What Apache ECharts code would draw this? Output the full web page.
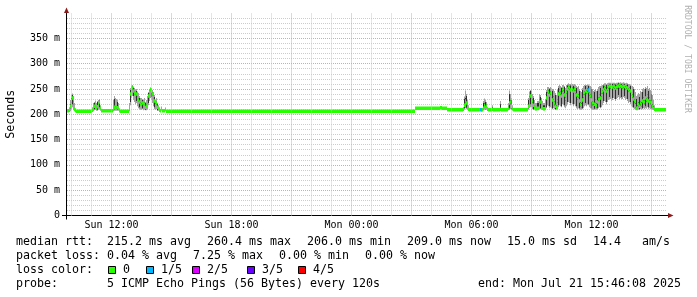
<!DOCTYPE html>
<html><head><meta charset="utf-8">
<script src="https://cdn.jsdelivr.net/npm/echarts@6/dist/echarts.min.js"></script>
<style>html,body{margin:0;padding:0;background:#fff}#c{width:697px;height:297px}</style>
</head><body><div id="c"></div>
<script>
// ---- DATA (sample start, hours since Sun 00:00; values in ms) ----
const times = [9.77,9.87,9.92,9.97,10.02,10.07,10.12,10.17,10.22,11.02,
11.07,11.12,11.17,11.22,11.27,11.32,11.37,11.42,11.47,12.07,
12.12,12.17,12.22,12.27,12.32,12.37,12.42,12.87,12.92,12.97,
13.02,13.07,13.12,13.17,13.22,13.27,13.32,13.37,13.42,13.47,
13.52,13.57,13.62,13.67,13.72,13.77,13.82,13.87,13.92,13.97,
14.02,14.07,14.12,14.17,14.22,14.27,14.32,14.37,14.42,14.47,
14.52,14.67,14.72,27.17,28.42,28.52,28.77,29.57,29.62,29.67,
29.72,29.77,29.82,29.87,30.42,30.47,30.57,30.62,30.67,30.72,
30.77,30.82,31.02,31.07,31.42,31.47,31.82,31.87,31.92,31.97,
32.02,32.07,32.82,32.87,32.92,32.97,33.02,33.07,33.12,33.17,
33.27,33.37,33.42,33.47,33.52,33.57,33.67,33.72,33.77,33.82,
33.87,33.92,33.97,34.02,34.07,34.12,34.17,34.22,34.27,34.32,
34.37,34.42,34.47,34.52,34.57,34.62,34.67,34.72,34.77,34.82,
34.87,34.92,34.97,35.02,35.07,35.12,35.17,35.22,35.27,35.32,
35.37,35.42,35.47,35.52,35.57,35.62,35.67,35.72,35.77,35.82,
35.87,35.92,35.97,36.02,36.07,36.12,36.17,36.22,36.27,36.32,
36.37,36.42,36.47,36.52,36.57,36.62,36.67,36.72,36.77,36.82,
36.87,36.92,36.97,37.02,37.07,37.12,37.17,37.22,37.27,37.32,
37.37,37.42,37.47,37.52,37.57,37.62,37.67,37.72,37.77,37.82,
37.87,37.92,37.97,38.02,38.07,38.12,38.17,38.22,38.27,38.32,
38.37,38.42,38.47,38.52,38.57,38.62,38.67,38.72,38.77,38.82,
38.87,38.92,38.97,39.02,39.07,39.12,39.17];
const median = [207,208,216,226,232,222,210,207,206,208,
212,216,218,212,215,220,224,212,207,210,
214,212,215,213,212,207,206,210,240,250,
252,246,242,236,240,232,228,224,220,218,
222,216,220,214,216,224,236,244,249,246,
240,234,226,218,222,214,212,208,207,212,
207,210,206,212,213,212,209,210,218,226,
222,214,210,209,209,209,212,218,214,216,
210,209,210,209,210,209,212,222,224,216,
211,209,216,232,236,234,226,218,214,211,
212,226,224,216,212,211,213,232,246,244,
238,242,236,228,232,222,216,214,226,240,
246,242,236,248,244,238,230,244,250,254,
252,248,252,250,246,250,244,238,232,236,
226,220,218,228,236,242,246,244,248,246,
240,236,228,222,216,220,226,218,224,230,
236,232,238,244,248,252,250,246,250,254,
256,255,252,254,256,255,252,254,255,256,
254,256,255,254,256,255,252,254,252,248,
250,246,240,236,230,226,218,212,214,220,
216,222,220,226,230,224,232,228,236,226,
230,224,222,216,212,210,209];
const smokeMin = [205,205,206,210,214,208,206,205,205,206,
206,208,209,207,207,209,210,207,206,206,
207,207,207,207,207,206,205,206,218,232,
236,228,224,220,222,216,212,210,209,209,
210,208,209,208,208,210,218,226,232,228,
222,216,210,209,210,207,207,206,206,207,
206,206,205,211,212,211,208,208,209,212,
210,209,208,208,208,208,208,209,209,209,
208,208,208,208,208,208,208,209,210,209,
208,208,209,212,214,214,210,209,209,208,
208,210,210,209,209,208,209,212,218,216,
212,214,212,210,212,210,209,209,210,214,
218,216,214,220,218,214,212,216,220,224,
222,218,222,220,216,220,216,212,210,212,
210,209,209,210,212,216,218,216,220,218,
214,212,210,209,209,209,210,209,210,212,
214,212,214,218,222,226,224,220,224,228,
230,230,226,228,232,230,226,230,232,234,
230,232,230,230,234,232,228,230,226,222,
224,220,216,214,212,210,209,208,208,209,
209,210,209,210,212,210,212,211,214,210,
212,210,210,209,209,208,208];
const smokeMax = [209,214,228,238,241,236,222,212,208,214,
222,224,227,222,226,228,230,218,209,228,
236,232,230,228,222,212,208,222,252,257,
258,255,252,248,250,245,242,236,232,232,
230,228,232,224,228,236,244,250,253,252,
248,244,238,228,232,222,218,214,209,214,
209,212,207,213,216,213,210,214,235,247,
240,228,218,210,210,210,226,231,228,224,
214,210,218,210,226,210,222,247,240,232,
218,210,232,245,248,247,240,236,228,222,
226,240,238,232,226,222,230,248,254,254,
252,254,252,250,250,246,242,238,248,256,
258,256,254,258,258,256,252,258,260,261,
260,260,261,260,259,260,258,256,254,256,
250,246,244,252,256,258,259,258,259,259,
257,256,254,250,246,248,250,246,250,254,
256,256,257,258,260,261,261,260,261,262,
262,262,261,262,262,262,261,262,262,263,
262,263,262,262,263,262,261,262,261,260,
260,259,257,256,254,250,244,236,238,242,
240,246,244,250,252,250,254,252,256,250,
252,248,246,238,228,218,210];
const smokeInnerLow = [206,207,212,222,220,219,208,206,205,207,
210,210,216,210,209,218,214,210,206,208,
210,210,212,209,210,206,205,208,224,247,
249,236,239,233,226,229,225,214,217,215,
212,213,217,209,213,221,222,241,246,234,
237,231,214,215,219,208,210,207,206,209,
206,208,205,211,212,211,208,209,212,222,
213,212,209,208,208,208,209,215,210,213,
209,208,209,208,209,208,210,212,220,210,
209,208,212,228,220,230,222,210,211,209,
209,222,212,213,210,209,211,214,242,240,
216,238,232,212,228,218,210,211,222,218,
242,238,216,244,240,218,226,240,224,250,
248,222,248,246,220,246,240,216,228,232,
212,216,214,212,232,238,222,240,244,220,
236,232,212,218,213,211,222,214,212,226,
232,214,234,240,226,248,246,224,246,250,
234,251,248,232,252,251,230,250,251,238,
250,252,234,250,252,236,248,250,230,244,
246,224,236,232,214,222,214,209,211,216,
210,218,216,212,226,220,216,224,232,214,
226,220,212,213,210,209,208];
const smokeInnerHigh = [208,210,220,232,238,225,212,208,207,209,
214,222,220,214,224,222,228,214,208,212,
230,215,218,224,214,208,207,212,248,253,
255,252,245,239,246,235,231,232,223,221,
228,219,223,222,219,227,242,247,251,250,
243,237,234,221,225,220,214,210,208,213,
208,211,207,213,214,213,210,212,230,232,
236,217,212,210,210,210,222,222,224,219,
212,210,214,210,220,210,215,240,228,228,
213,210,228,236,246,238,230,232,217,214,
222,230,234,219,214,218,216,244,250,248,
250,246,240,246,236,226,238,218,230,252,
250,246,252,252,248,254,234,248,257,257,
256,257,256,254,256,254,248,252,236,240,
246,224,222,248,240,246,256,248,252,256,
244,240,250,226,220,244,230,222,246,234,
240,252,242,248,257,256,254,258,254,258,
260,259,256,260,259,259,259,258,259,261,
258,260,260,258,260,260,256,258,259,252,
254,256,244,240,250,230,222,230,218,224,
234,226,224,244,234,228,250,232,240,246,
234,228,240,220,216,212,210];
const lossTimes = [30.42, 35.77];
const lossLevels = [1, 1];
const startHour = 9.775, endHour = 39.775, lastSampleEnd = 39.72;
const xTickHours = [12, 18, 24, 30, 36];
const xTickLabels = ['Sun 12:00', 'Sun 18:00', 'Mon 00:00', 'Mon 06:00', 'Mon 12:00'];
const hourGrid = [10,11,13,14,16,17,19,20,22,23,25,26,28,29,31,32,34,35,37,38];
const majorHourGrid = [12,15,18,21,24,27,30,33,36,39];
const lossLabels = ['0', '1/5', '2/5', '3/5', '4/5'];
const lossColors = ['#26ff00', '#00b8ff', '#dd00ff', '#6a00ff', '#ff0000'];
const legendRow1 = ['median rtt:  215.2 ms avg', '260.4 ms max', '206.0 ms min', '209.0 ms now', '15.0 ms sd', '14.4   am/s'];
const legendRow2 = ['packet loss: 0.04 % avg', '7.25 % max', '0.00 % min', '0.00 % now'];
const probeText = 'probe:       5 ICMP Echo Pings (56 Bytes) every 120s';
const endText = 'end: Mon Jul 21 15:46:08 2025';

// ---- LAYOUT ----
const G = {left: 67, top: 13, width: 600, height: 202.5};
const bottomY = G.top + G.height;
const MONO = '"DejaVu Sans Mono", monospace';
const legFont = '11.63px ' + MONO;
const charW = 7, gap = 16, legX = 16;
const rowY = [242, 256, 270, 284];
const medianBarPx = 3.5;

const graphics = [];
function txt(x, y, s) {
  graphics.push({type: 'text', x: x, y: y, silent: true,
    style: {text: s, font: legFont, fill: '#000', align: 'left', verticalAlign: 'middle'}});
}
function placeRow(items, y) {
  let x = legX;
  items.forEach(s => { txt(x, y, s); x += s.length * charW + gap; });
}
placeRow(legendRow1, rowY[0]);
placeRow(legendRow2, rowY[1]);
txt(legX, rowY[2], 'loss color:');
const boxX = [108, 146, 192, 247, 298];
lossLabels.forEach((l, i) => {
  graphics.push({type: 'rect', silent: true, shape: {x: boxX[i] + 0.5, y: Math.round(rowY[2] - 4) + 0.5, width: 7, height: 7},
    style: {fill: lossColors[i], stroke: '#000', lineWidth: 1}});
  txt(boxX[i] + 15, rowY[2], l);
});
txt(legX, rowY[3], probeText);
txt(478, rowY[3], endText);
// axis lines + arrows
graphics.push({type: 'line', silent: true, shape: {x1: G.left - 5, y1: bottomY, x2: G.left + G.width + 5, y2: bottomY}, style: {stroke: '#000', lineWidth: 1}});
graphics.push({type: 'line', silent: true, shape: {x1: G.left - 0.5, y1: bottomY + 4, x2: G.left - 0.5, y2: G.top - 4}, style: {stroke: '#000', lineWidth: 1}});
graphics.push({type: 'polygon', silent: true, shape: {points: [[G.left - 3, G.top], [G.left + 2, G.top], [G.left - 0.5, G.top - 5.5]]}, style: {fill: '#8b1a1a'}});
graphics.push({type: 'polygon', silent: true, shape: {points: [[G.left + G.width + 1, bottomY - 2.5], [G.left + G.width + 1, bottomY + 2.5], [G.left + G.width + 6.5, bottomY]]}, style: {fill: '#8b1a1a'}});
// vertical titles
graphics.push({type: 'text', x: 11, y: G.top + G.height / 2, rotation: Math.PI / 2, silent: true,
  style: {text: 'Seconds', font: legFont, fill: '#000', align: 'center', verticalAlign: 'middle'}});
graphics.push({type: 'text', x: 687.5, y: 59, rotation: -Math.PI / 2, silent: true,
  style: {text: 'RRDTOOL / TOBI OETIKER', font: '8.15px ' + MONO, fill: '#b0b0b0', align: 'center', verticalAlign: 'middle'}});

// ---- SERIES DATA ----
const nextT = i => (i + 1 < times.length ? times[i + 1] : lastSampleEnd);
const lossAt = t => { const k = lossTimes.findIndex(v => Math.abs(v - t) < 1e-6); return k >= 0 ? lossLevels[k] : 0; };
const smokeRows = times.map((t, i) => [t, smokeMin[i], smokeMax[i], smokeInnerLow[i], smokeInnerHigh[i], nextT(i)]);
const medianRows = times.map((t, i) => [t, median[i], nextT(i), lossAt(t)]);

function colSpan(a, b) {
  const x0 = Math.round(a), x1 = Math.round(b);
  return {x: x0, width: Math.max(1, x1 - x0)};
}
function renderSmoke(params, api) {
  const t0 = api.value(0), t1 = api.value(5);
  const a = api.coord([t0, api.value(2)]), b = api.coord([t1, api.value(1)]);
  const c = api.coord([t0, api.value(4)]), d = api.coord([t1, api.value(3)]);
  const s = colSpan(a[0], b[0]);
  return {type: 'group', children: [
    {type: 'rect', shape: {x: s.x, y: a[1], width: s.width, height: b[1] - a[1]}, style: {fill: '#a3a3a3'}},
    {type: 'rect', shape: {x: s.x, y: c[1], width: s.width, height: d[1] - c[1]}, style: {fill: '#2e2e2e'}}
  ]};
}
function renderMedian(params, api) {
  const a = api.coord([api.value(0), api.value(1)]), b = api.coord([api.value(2), api.value(1)]);
  const s = colSpan(a[0], b[0]);
  const lvl = api.value(3);
  const w = lvl > 0 ? Math.max(2, s.width) : s.width;
  return {type: 'rect', shape: {x: s.x, y: a[1] - medianBarPx / 2, width: w, height: medianBarPx},
    style: {fill: lossColors[lvl]}, z2: lvl > 0 ? 10 : 0};
}

const gridLine = (color, list) => ({type: 'line', data: [], z: 1, silent: true, showSymbol: false,
  markLine: {silent: true, symbol: ['none', 'none'], label: {show: false}, animation: false,
    lineStyle: {color: color, width: 1, type: [1, 1]}, data: list.map(h => ({xAxis: h}))}});

const chart = echarts.init(document.getElementById('c'), null, {renderer: 'canvas'});
chart.setOption({
  animation: false,
  backgroundColor: '#ffffff',
  grid: {left: G.left, top: G.top, width: G.width, height: G.height},
  xAxis: {
    type: 'value', min: startHour, max: endHour,
    axisLine: {show: false}, axisTick: {show: false}, splitLine: {show: false},
    axisLabel: {customValues: xTickHours, margin: 5, fontFamily: MONO, fontSize: 10, color: '#000',
      formatter: v => { const k = xTickHours.findIndex(h => Math.abs(h - v) < 1e-6); return k >= 0 ? xTickLabels[k] : ''; }}
  },
  yAxis: {
    type: 'value', min: 0, max: 400, interval: 50,
    axisLine: {show: false}, axisTick: {show: false},
    axisLabel: {margin: 7, fontFamily: MONO, fontSize: 10, color: '#000', showMaxLabel: false,
      formatter: v => v === 0 ? '0' : v + ' m'},
    splitLine: {show: true, showMaxLine: false, showMinLine: false, lineStyle: {color: '#eba0a0', width: 1, type: [1, 1]}},
    minorTick: {show: false, splitNumber: 5},
    minorSplitLine: {show: true, lineStyle: {color: '#cccccc', width: 1, type: [1, 1]}}
  },
  graphic: graphics,
  series: [
    gridLine('#cccccc', hourGrid),
    gridLine('#eba0a0', majorHourGrid),
    {type: 'custom', z: 2, silent: true, renderItem: renderSmoke, data: smokeRows,
      encode: {x: [0, 5], y: [1, 2, 3, 4]}, clip: true},
    {type: 'custom', z: 3, silent: true, renderItem: renderMedian, data: medianRows,
      encode: {x: [0, 2], y: 1}, clip: true}
  ]
});
</script></body></html>
